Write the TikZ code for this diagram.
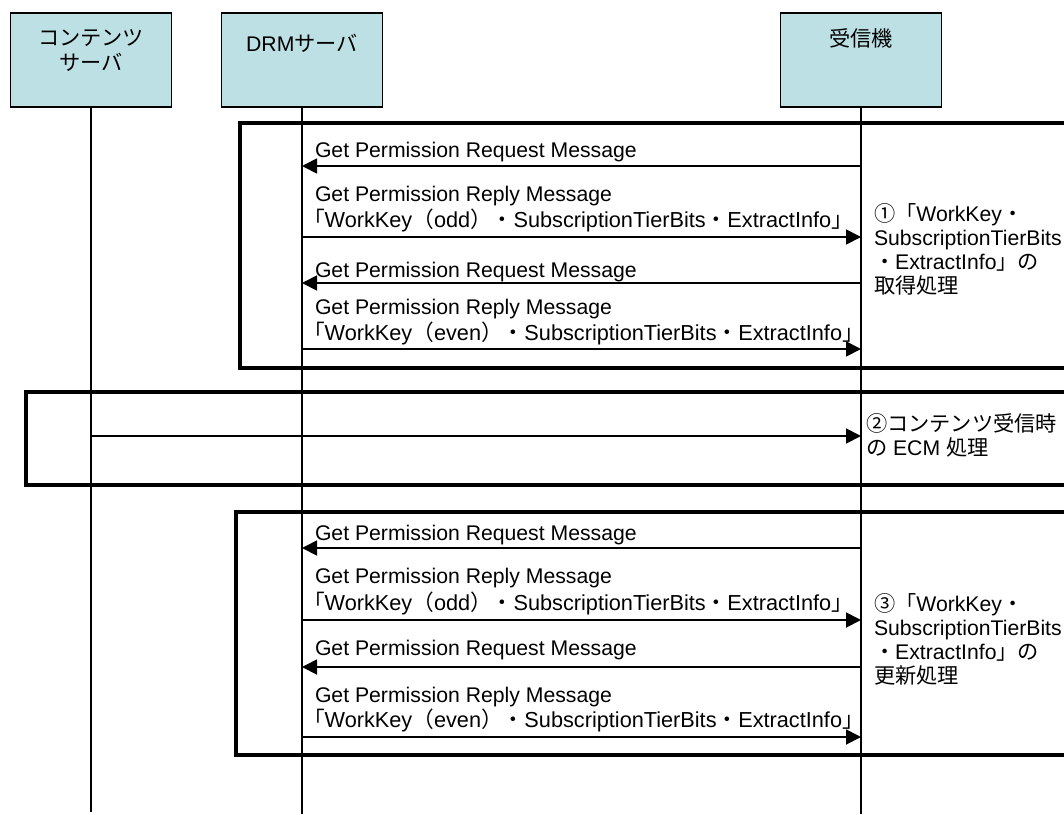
\documentclass[tikz,border=0pt]{standalone}
\usepackage{fontspec}
\setmainfont{Liberation Sans}
\newfontfamily\jpf{Noto Sans CJK JP}
\newcommand{\J}[1]{{\jpf #1}}
\usetikzlibrary{arrows.meta}
\definecolor{hdrfill}{RGB}{188,224,228}
\begin{document}
\begin{tikzpicture}[x=1pt,y=-1pt,
  every node/.style={inner sep=0pt, outer sep=0pt, font=\fontsize{21.2}{25}\selectfont},
  hdr/.style={draw=black, line width=1.5pt, fill=hdrfill, minimum width=161pt, minimum height=94pt},
  life/.style={line width=1.3pt},
  msg/.style={line width=1.8pt, -{Triangle[length=15pt,width=15pt]}},
  frm/.style={line width=4pt},
  lbl/.style={anchor=base west},
  lng/.style={anchor=base west, font=\fontsize{21.7}{25}\selectfont},
  htx/.style={anchor=base},
]
\useasboundingbox (0,0) rectangle (1064,814);
\clip (0,0) rectangle (1064,814);

% header boxes
\node[hdr] (cs) at (91,60) {};
\node[hdr] (drm) at (302,60) {};
\node[hdr] (rx) at (861,60) {};
\node[htx] (csA) at (91,45) {\J{コンテンツ}};
\node[htx] (csB) at (91,70) {\J{サーバ}};
\node[htx] (drmA) at (302,51) {DRM\J{サーバ}};
\node[htx] (rxA) at (861,46) {\J{受信機}};

% lifelines
\coordinate (csE) at (91,812);
\coordinate (drmE) at (302,814);
\coordinate (rxE) at (861,814);
\draw[life] (cs.south) -- (csE);
\draw[life] (drm.south) -- (drmE);
\draw[life] (rx.south) -- (rxE);

% frames
\draw[frm] (1070,123) -- (240,123) -- (240,368) -- (1070,368);
\draw[frm] (1070,392) -- (26,392) -- (26,485) -- (1070,485);
\draw[frm] (1070,512) -- (236,512) -- (236,755) -- (1070,755);

% message anchor points
\foreach \n/\y in {a/166,b/237,c/283,d/349,e/436,f/548,g/620,h/667,i/737}{
  \coordinate (d\n) at (302,\y);
  \coordinate (r\n) at (861,\y);
}
\coordinate (ce) at (91,436);

% frame 1 messages
\draw[msg] (ra) -- (da);
\draw[msg] (db) -- (rb);
\draw[msg] (rc) -- (dc);
\draw[msg] (dd) -- (rd);
% frame 2
\draw[msg] (ce) -- (re);
% frame 3
\draw[msg] (rf) -- (df);
\draw[msg] (dg) -- (rg);
\draw[msg] (rh) -- (dh);
\draw[msg] (di) -- (ri);

% labels frame 1
\node[lbl] (l1) at (315,157) {Get Permission Request Message};
\node[lbl] (l2) at (315,201) {Get Permission Reply Message};
\node[lng] (l3) at (303,227) {\J{「}WorkKey\J{（}odd\J{）・}SubscriptionTierBits\J{・}ExtractInfo\J{」}};
\node[lbl] (l4) at (315,277) {Get Permission Request Message};
\node[lbl] (l5) at (315,314) {Get Permission Reply Message};
\node[lng] (l6) at (303,340) {\J{「}WorkKey\J{（}even\J{）・}SubscriptionTierBits\J{・}ExtractInfo\J{」}};

% labels frame 3
\node[lbl] (m1) at (315,540) {Get Permission Request Message};
\node[lbl] (m2) at (315,583) {Get Permission Reply Message};
\node[lng] (m3) at (303,610) {\J{「}WorkKey\J{（}odd\J{）・}SubscriptionTierBits\J{・}ExtractInfo\J{」}};
\node[lbl] (m4) at (315,655) {Get Permission Request Message};
\node[lbl] (m5) at (315,702) {Get Permission Reply Message};
\node[lng] (m6) at (303,727) {\J{「}WorkKey\J{（}even\J{）・}SubscriptionTierBits\J{・}ExtractInfo\J{」}};

% right side notes
\node[lbl] (p1) at (874,221) {\J{①「}WorkKey\J{・}};
\node[lbl] (p2) at (874,245) {SubscriptionTierBits};
\node[lbl] (p3) at (874,269) {\J{・}ExtractInfo\J{」の}};
\node[lbl] (p4) at (874,293) {\J{取得処理}};

\node[lbl] (q1) at (866,431) {\J{②コンテンツ受信時}};
\node[lbl] (q2) at (866,455) {\J{の} ECM \J{処理}};

\node[lbl] (s1) at (874,611) {\J{③「}WorkKey\J{・}};
\node[lbl] (s2) at (874,635) {SubscriptionTierBits};
\node[lbl] (s3) at (874,659) {\J{・}ExtractInfo\J{」の}};
\node[lbl] (s4) at (874,683) {\J{更新処理}};
\end{tikzpicture}
\end{document}
